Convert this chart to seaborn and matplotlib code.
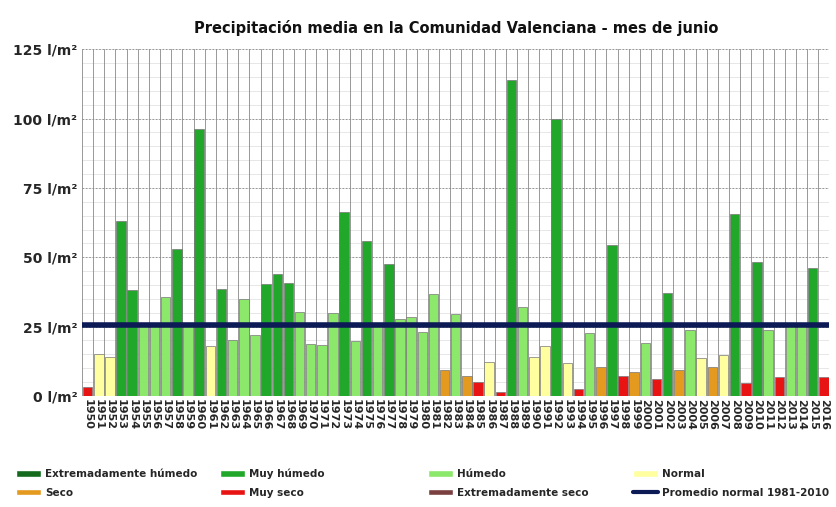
import matplotlib
matplotlib.use("Agg")
import matplotlib.pyplot as plt
import seaborn as sns
import pandas as pd
from matplotlib.patches import Patch
from matplotlib.lines import Line2D

years = list(range(1950, 2017))
values = [3.4, 15.1, 14.2, 63.1, 38.2, 25.5, 25.5, 35.8, 53.1, 25.3, 96.4, 17.9, 38.4, 20.2, 34.8, 21.8,
          40.3, 44.1, 40.8, 30.1, 18.7, 18.4, 29.8, 66.3, 19.7, 55.8, 25.5, 47.7, 27.6, 28.3,
          22.9, 36.6, 9.4, 29.4, 7.2, 5.0, 12.4, 1.3, 113.9, 31.9, 13.9, 17.9, 100.0, 11.8, 2.6,
          22.6, 10.6, 54.4, 7.2, 8.6, 19.0, 6.2, 37.2, 9.2, 23.6, 13.6, 10.6, 14.6, 65.5, 4.6,
          48.4, 23.6, 7.0, 25.5, 25.5, 46.1, 6.8]
cats = ["MS", "N", "N", "MH", "MH", "H", "H", "H", "MH", "H", "MH", "N", "MH", "H", "H", "H",
        "MH", "MH", "MH", "H", "H", "H", "H", "MH", "H", "MH", "H", "MH", "H", "H",
        "H", "H", "S", "H", "S", "MS", "N", "MS", "MH", "H", "N", "N", "MH", "N", "MS",
        "H", "S", "MH", "MS", "S", "H", "MS", "MH", "S", "H", "N", "S", "N", "MH", "MS",
        "MH", "H", "MS", "H", "H", "MH", "MS"]
normal_avg = 25.5
cat_labels = {"EH": "Extremadamente húmedo", "MH": "Muy húmedo", "H": "Húmedo", "N": "Normal",
              "S": "Seco", "MS": "Muy seco", "ES": "Extremadamente seco"}
colors = {"EH": "#146b1e", "MH": "#21a82a", "H": "#8be86a", "N": "#ffffa0",
          "S": "#e39a1f", "MS": "#e81414", "ES": "#7a4040"}

df = pd.DataFrame({"year": [str(y) for y in years], "value": values, "cat": cats})

sns.set_style("white")
fig = plt.figure(figsize=(8.37, 5.07), dpi=100)
ax = fig.add_axes([0.098, 0.219, 0.893, 0.684])
sns.barplot(data=df, x="year", y="value", hue="cat", palette=colors, dodge=False, saturation=1,
            width=0.85, edgecolor="#777777", linewidth=0.5, legend=False, ax=ax, zorder=2)
n = len(years)
for i in range(n + 1):
    ax.axvline(i - 0.5, color="#888888", lw=0.6, zorder=1)
for v in range(5, 126, 5):
    ax.axhline(v, color="#dddddd", lw=0.5, zorder=0.5)
for v in (25, 50, 75, 100, 125):
    ax.axhline(v, color="#888888", lw=0.6, ls=(0, (2, 2)), zorder=0.6)
ax.plot([-0.5, n - 0.5], [normal_avg, normal_avg], color="#0c1a55", lw=4, zorder=3)
ax.set_xlim(-0.5, n - 0.5)
ax.set_ylim(0, 125)
ax.set_yticks([0, 25, 50, 75, 100, 125])
ax.set_yticklabels([f"{v} l/m²" for v in [0, 25, 50, 75, 100, 125]], fontweight="bold", fontsize=10)
ax.set_xticks(range(n))
ax.set_xticklabels(df["year"], rotation=-90, fontweight="bold", fontsize=8)
ax.tick_params(axis="x", length=0, pad=2)
ax.tick_params(axis="y", length=0)
ax.set_xlabel("")
ax.set_ylabel("")
for s in ax.spines.values():
    s.set_visible(False)
ax.set_title("Precipitación media en la Comunidad Valenciana - mes de junio",
             fontweight="bold", fontsize=10.5, pad=12, color="#111111")

cols = [["EH", "S"], ["MH", "MS"], ["H", "ES"], ["N", "AVG"]]
xs = [0.008, 0.252, 0.5, 0.745]
for x, col in zip(xs, cols):
    hs = []
    for k in col:
        if k == "AVG":
            hs.append(Line2D([], [], color="#0c1a55", lw=3, label="Promedio normal 1981-2010"))
        else:
            hs.append(Patch(facecolor=colors[k], label=cat_labels[k]))
    fig.legend(handles=hs, loc="lower left", bbox_to_anchor=(x, 0.0), ncol=1, frameon=False,
               prop={"weight": "bold", "size": 7.5}, handlelength=2.4, handleheight=0.6,
               borderaxespad=0.5, labelspacing=0.8, handletextpad=0.4)
fig.savefig("out.png", dpi=100)
